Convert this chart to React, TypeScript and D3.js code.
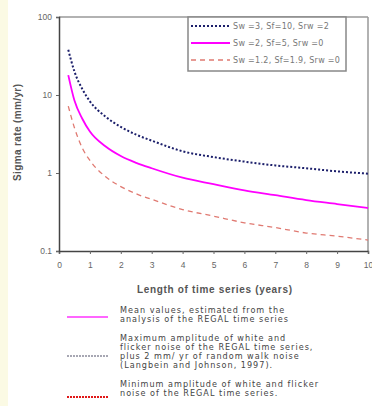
import React, { useRef, useEffect } from 'react';
import * as d3 from 'd3';

// time series length (years)
const years = [0.3, 0.5, 0.75, 1, 1.5, 2, 2.5, 3, 4, 5, 6, 7, 8, 9, 10];
// sigma rate (mm/yr) for each scenario
const maxNoise = [38, 20, 12, 8.3, 5.3, 3.9, 3.1, 2.6, 1.9, 1.6, 1.4, 1.25, 1.15, 1.05, 0.98];
const meanNoise = [18, 8.5, 5, 3.4, 2.2, 1.65, 1.35, 1.15, 0.87, 0.72, 0.6, 0.52, 0.45, 0.4, 0.355];
const minNoise = [7.2, 3.8, 2.1, 1.45, 0.9, 0.67, 0.54, 0.46, 0.34, 0.28, 0.23, 0.2, 0.17, 0.155, 0.138];

const xTicks = [0, 1, 2, 3, 4, 5, 6, 7, 8, 9, 10];
const yTicks = [0.1, 1, 10, 100];

const seriesNames = ['Sw =3, Sf=10, Srw =2', 'Sw =2, Sf=5, Srw =0', 'Sw =1.2, Sf=1.9, Srw =0'];

const notes = [
  ['Mean values, estimated from the', 'analysis of the REGAL time series'],
  ['Maximum amplitude of white and', 'flicker noise of the REGAL time series,', 'plus 2 mm/ yr of random walk noise', '(Langbein and Johnson, 1997).'],
  ['Minimum amplitude of white and flicker', 'noise of the REGAL time series.'],
];

const App = () => {
  const svgRef = useRef<SVGSVGElement>(null);

  useEffect(() => {
    const svg = d3.select(svgRef.current);
    svg.selectAll('*').remove();
    const font = '"Liberation Sans", Arial, sans-serif';
    const wide = '"DejaVu Sans", Verdana, sans-serif';

    svg.append('rect').attr('width', 372).attr('height', 406).attr('fill', '#fff');
    svg.append('rect').attr('width', 8).attr('height', 406).attr('fill', '#fbfae4');

    const x = d3.scaleLinear().domain([0, 10]).range([59, 368]);
    const y = d3.scaleLog().domain([0.1, 100]).range([251, 17]);

    // frame
    svg.append('line').attr('x1', 59).attr('x2', 368).attr('y1', 17).attr('y2', 17)
      .attr('stroke', '#999').attr('stroke-width', 1.5);
    svg.append('line').attr('x1', 368).attr('x2', 368).attr('y1', 17).attr('y2', 251)
      .attr('stroke', '#999').attr('stroke-width', 1.5);

    const xAxis = svg.append('g').attr('transform', 'translate(0,251)')
      .call(d3.axisBottom(x).tickValues(xTicks).tickSize(3).tickPadding(8).tickFormat(d3.format('d')));
    const yAxis = svg.append('g').attr('transform', 'translate(59,0)')
      .call(d3.axisLeft(y).tickValues(yTicks).tickSize(3).tickPadding(4).tickFormat(d => String(d)));
    [xAxis, yAxis].forEach(a => {
      a.select('.domain').attr('stroke', '#444').attr('stroke-width', 1.5);
      a.selectAll('.tick line').attr('stroke', '#666');
      a.selectAll('text').attr('font-family', font).attr('font-size', 8.5).attr('fill', '#666');
    });

    const line = (vals: number[]) => d3.line<number>()
      .x((_, i) => x(years[i]))
      .y(d => y(d))
      .curve(d3.curveMonotoneX)(vals);

    const styles = [
      { data: maxNoise, color: '#1c1f6b', dash: '2,2', w: 2 },
      { data: meanNoise, color: '#ff00ff', dash: null, w: 1.8 },
      { data: minNoise, color: '#e07a72', dash: '5,4', w: 1.3 },
    ];
    styles.forEach(s => {
      svg.append('path').attr('d', line(s.data)).attr('fill', 'none')
        .attr('stroke', s.color).attr('stroke-width', s.w)
        .attr('stroke-dasharray', s.dash);
    });

    // inner legend
    const lg = svg.append('g');
    lg.append('rect').attr('x', 188).attr('y', 17).attr('width', 158).attr('height', 54)
      .attr('fill', '#fff').attr('stroke', '#888').attr('stroke-width', 1.5);
    styles.forEach((s, i) => {
      const yy = 26 + i * 17;
      lg.append('line').attr('x1', 191).attr('x2', 230).attr('y1', yy).attr('y2', yy)
        .attr('stroke', s.color).attr('stroke-width', s.w).attr('stroke-dasharray', s.dash);
      lg.append('text').attr('x', 233).attr('y', yy + 3).text(seriesNames[i])
        .attr('font-family', wide).attr('font-size', 8).attr('letter-spacing', 0.3).attr('fill', '#777');
    });

    // axis titles
    svg.append('text').attr('x', 137).attr('y', 293)
      .attr('textLength', 155).attr('lengthAdjust', 'spacing')
      .text('Length of time series (years)')
      .attr('font-family', font).attr('font-size', 10).attr('font-weight', 'bold').attr('fill', '#555');
    svg.append('text').attr('transform', 'translate(21,181) rotate(-90)')
      .attr('textLength', 97).attr('lengthAdjust', 'spacing')
      .text('Sigma rate (mm/yr)')
      .attr('font-family', font).attr('font-size', 10).attr('font-weight', 'bold').attr('fill', '#555');

    // notes below
    const noteStyles = [
      { color: '#ff66ff', dash: null, w: 2, ly: 317, ty: 313 },
      { color: '#8a8a9a', dash: '2,1', w: 1.5, ly: 356, ty: 341 },
      { color: '#e01818', dash: '2,1', w: 2, ly: 397, ty: 387 },
    ];
    noteStyles.forEach((n, i) => {
      svg.append('line').attr('x1', 67).attr('x2', 108).attr('y1', n.ly).attr('y2', n.ly)
        .attr('stroke', n.color).attr('stroke-width', n.w).attr('stroke-dasharray', n.dash);
      notes[i].forEach((t, j) => {
        svg.append('text').attr('x', 120).attr('y', n.ty + j * 9).text(t)
          .attr('font-family', wide).attr('font-size', 8.1).attr('letter-spacing', 1).attr('fill', '#444');
      });
    });
  }, []);

  return (
    <svg ref={svgRef} width={372} height={406}
      style={{ position: 'absolute', left: 0, top: 0, display: 'block' }} />
  );
};

export default App;
